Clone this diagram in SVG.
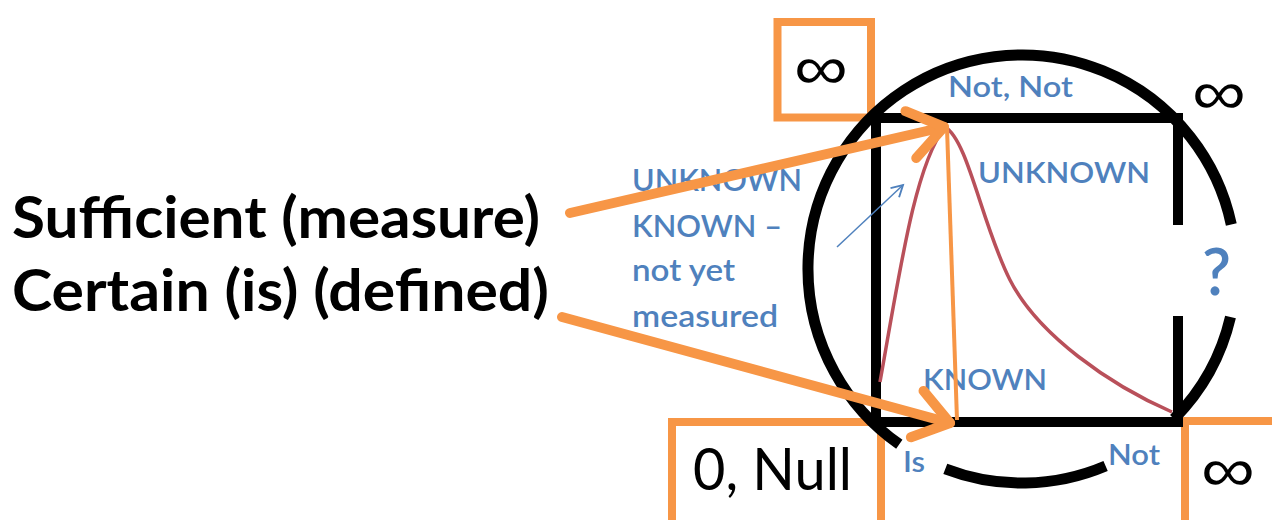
<svg xmlns="http://www.w3.org/2000/svg" width="1272" height="520" viewBox="0 0 1272 520">
  <style>
    .big { font-family: Lato, "Open Sans", "Liberation Sans", sans-serif; font-weight: bold; fill: #000; }
    .blue { font-family: Lato, "Open Sans", "Liberation Sans", sans-serif; font-weight: 600; fill: #4F81BD; }
    .inf { font-family: "Liberation Sans", Arial, sans-serif; fill: #000; text-anchor: middle; }
    .obox { fill: none; stroke: #F79646; stroke-width: 8; }
    .blk { fill: none; stroke: #000; stroke-width: 11; }
    .oarrow { fill: none; stroke: #F79646; stroke-width: 10; stroke-linecap: round; }
  </style>
  <defs>
    <marker id="oa" markerUnits="userSpaceOnUse" markerWidth="60" markerHeight="60" viewBox="-50 -30 60 60" refX="0" refY="0" orient="auto" overflow="visible">
      <path d="M-34,-24 L0,0 L-34,24" fill="none" stroke="#F79646" stroke-width="10" stroke-linecap="round" stroke-linejoin="round"/>
    </marker>
    <marker id="ba" markerUnits="userSpaceOnUse" markerWidth="20" markerHeight="20" viewBox="-12 -8 14 16" refX="0" refY="0" orient="auto" overflow="visible">
      <path d="M-9,-5 L0,0 L-9,5" fill="none" stroke="#4F81BD" stroke-width="1.5"/>
    </marker>
  </defs>
  <rect width="1272" height="520" fill="#fff"/>

  <g id="box-inf-left">
    <rect class="obox" x="777.5" y="22" width="93.5" height="95.5"/>
    <text class="inf" x="821" y="89" font-size="62" textLength="54" lengthAdjust="spacingAndGlyphs">∞</text>
  </g>
  <g id="box-null">
    <rect class="obox" x="672" y="422" width="209" height="110"/>
    <text x="693" y="490" font-family="Lato, 'Open Sans', 'Liberation Sans', sans-serif" font-size="58" textLength="159" lengthAdjust="spacingAndGlyphs">0, Null</text>
  </g>
  <g id="box-inf-right">
    <rect class="obox" x="1185" y="421" width="100" height="110"/>
    <text class="inf" x="1228" y="491" font-size="62" textLength="54" lengthAdjust="spacingAndGlyphs">∞</text>
  </g>
  <g id="inf-top-right">
    <text class="inf" x="1219" y="114" font-size="62" textLength="54" lengthAdjust="spacingAndGlyphs">∞</text>
  </g>

  <g id="circle">
    <path class="blk" d="M1231.3,224.5 A214,214 0 1 0 899.3,444.3"/>
    <path class="blk" d="M945.3,468.8 A214,214 0 0 0 1105.6,466"/>
    <path class="blk" d="M1174,419 A214,214 0 0 0 1230.5,317.1"/>
  </g>
  <g id="square">
    <path d="M1178,225 L1178,118 L876,118 L876,422 L1178,422 L1178,316" fill="none" stroke="#000" stroke-width="10"/>
  </g>

  <g id="curve">
    <path d="M880,382 C900,270 915,165 945,127 C968,140 982,225 1010,280 S1110,385 1172,412" fill="none" stroke="#B9505A" stroke-width="3.5"/>
  </g>

  <g id="labels-left">
    <text class="big" x="12" y="238" font-size="57" textLength="528" lengthAdjust="spacingAndGlyphs">Sufficient (measure)</text>
    <text class="big" x="12" y="311" font-size="57" textLength="537" lengthAdjust="spacingAndGlyphs">Certain (is) (defined)</text>
  </g>

  <g id="labels-blue">
    <text class="blue" x="948" y="97" font-size="28" textLength="125" lengthAdjust="spacingAndGlyphs">Not, Not</text>
    <text class="blue" x="978" y="183" font-size="29" textLength="172" lengthAdjust="spacingAndGlyphs">UNKNOWN</text>
    <text class="blue" x="632" y="191" font-size="30" textLength="170" lengthAdjust="spacingAndGlyphs">UNKNOWN</text>
    <text class="blue" x="632" y="237" font-size="30" textLength="150" lengthAdjust="spacingAndGlyphs">KNOWN –</text>
    <text class="blue" x="632" y="281" font-size="30" textLength="103" lengthAdjust="spacingAndGlyphs">not yet</text>
    <text class="blue" x="632" y="327" font-size="30" textLength="146" lengthAdjust="spacingAndGlyphs">measured</text>
    <text class="blue" x="923" y="390" font-size="29" textLength="124" lengthAdjust="spacingAndGlyphs">KNOWN</text>
    <text class="blue" x="903" y="472" font-size="29" textLength="22" lengthAdjust="spacingAndGlyphs">Is</text>
    <text class="blue" x="1108" y="465" font-size="29" textLength="52" lengthAdjust="spacingAndGlyphs">Not</text>
    <text class="blue" x="1202" y="295" font-size="66" font-weight="bold" textLength="29" lengthAdjust="spacingAndGlyphs">?</text>
  </g>

  <g id="connectors">
    <line x1="947" y1="128" x2="957" y2="420" stroke="#F79646" stroke-width="4"/>
    <line class="oarrow" x1="570" y1="213" x2="944" y2="127" marker-end="url(#oa)"/>
    <line class="oarrow" x1="562" y1="317" x2="950" y2="423" marker-end="url(#oa)"/>
    <line x1="837" y1="247" x2="903" y2="185" stroke="#4F81BD" stroke-width="1.5" marker-end="url(#ba)"/>
  </g>
</svg>
